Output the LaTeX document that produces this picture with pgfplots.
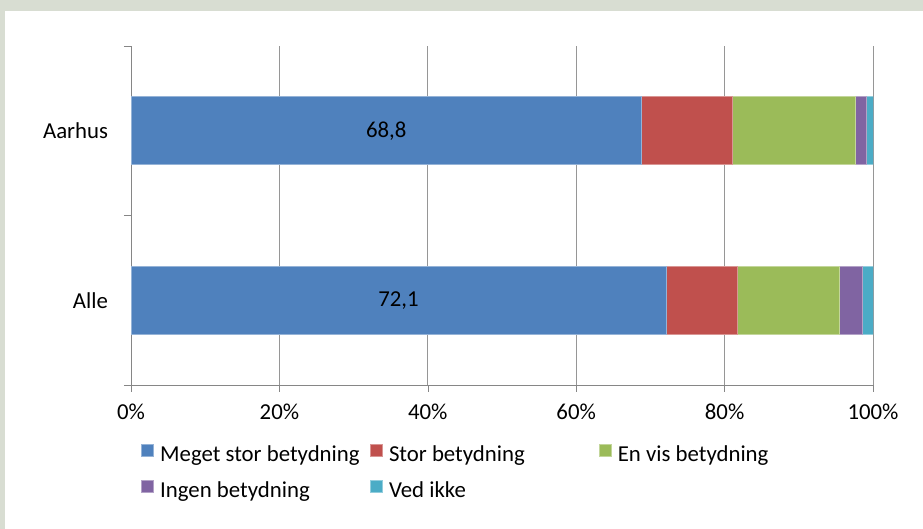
\documentclass[border=0pt]{standalone}
\usepackage{fontspec}
\setmainfont{Carlito}
\usepackage{pgfplots}
\pgfplotsset{compat=1.18}

\definecolor{cblue}{RGB}{79,129,189}
\definecolor{cred}{RGB}{192,80,77}
\definecolor{cgreen}{RGB}{155,187,89}
\definecolor{cpurple}{RGB}{128,100,162}
\definecolor{ccyan}{RGB}{75,172,198}
\definecolor{frameclr}{RGB}{216,221,210}
\definecolor{axisclr}{RGB}{134,134,134}
\definecolor{gridclr}{RGB}{150,150,150}

% shared geometry of the bar axis and the label overlay
\pgfplotsset{
  chartbox/.style={
    at={(65.5pt,72pt)}, anchor=south west,
    scale only axis, width=371pt, height=169.5pt,
    xmin=0, xmax=100, ymin=-0.5, ymax=1.5,
  },
}

\begin{document}
\fontsize{11.4}{13.7}\selectfont
\begin{tikzpicture}
\fill[frameclr] (0,0) rectangle (461.5pt,264.5pt);
\fill[white] (2.5pt,0) rectangle (461.5pt,259pt);
\useasboundingbox (0,0) rectangle (461.5pt,264.5pt);

\begin{axis}[
  chartbox,
  xbar stacked, bar width=34pt,
  axis lines*=left,
  axis line style={axisclr},
  xtick={0,20,40,60,80,100},
  xticklabels={0\%,20\%,40\%,60\%,80\%,100\%},
  xmajorgrids, grid style={gridclr, line width=0.5pt},
  tick align=outside, major tick length=3.5pt,
  xtick style={axisclr},
  xticklabel style={yshift=-2pt},
  ytick={0,1}, yticklabels={Alle,Aarhus},
  ytick style={draw=none},
  yticklabel style={xshift=-4pt},
  extra y ticks={-0.5,0.5,1.5},
  extra y tick labels={},
  extra y tick style={ytick style={draw=axisclr}, grid=none},
  legend columns=3,
  legend style={at={(0.0135,-0.155)}, anchor=north west,
    draw=none, fill=none, inner sep=0pt, column sep=0pt, row sep=0pt,
    nodes={text height=8pt, text depth=2.5pt, inner ysep=3.75pt, inner xsep=3pt}},
  legend cell align=left,
  legend image code/.code={\fill[#1] (0pt,0pt) rectangle (6pt,6pt);},
]
\addplot+[fill=cblue, draw=cblue!60!white, line width=0.4pt] coordinates {(68.8,1) (72.1,0)};
\addplot+[fill=cred, draw=cred!60!white, line width=0.4pt] coordinates {(12.3,1) (9.6,0)};
\addplot+[fill=cgreen, draw=cgreen!60!white, line width=0.4pt] coordinates {(16.5,1) (13.8,0)};
\addplot+[fill=cpurple, draw=cpurple!60!white, line width=0.4pt] coordinates {(1.5,1) (3.1,0)};
\addplot+[fill=ccyan, draw=ccyan!60!white, line width=0.4pt] coordinates {(0.9,1) (1.4,0)};
\addlegendentry{\makebox[102pt][l]{Meget stor betydning}}
\addlegendentry{\makebox[102pt][l]{Stor betydning}}
\addlegendentry{\makebox[102pt][l]{En vis betydning}}
\addlegendentry{\makebox[102pt][l]{Ingen betydning}}
\addlegendentry{\makebox[102pt][l]{Ved ikke}}
\end{axis}

% value labels centred in the first segment
\begin{axis}[chartbox, hide axis]
\addplot[only marks, mark=none, nodes near coords, point meta=explicit symbolic,
  every node near coord/.append style={anchor=center, text=black}]
  coordinates {(34.4,1) [68,8] (36.05,0) [72,1]};
\end{axis}
\end{tikzpicture}
\end{document}
